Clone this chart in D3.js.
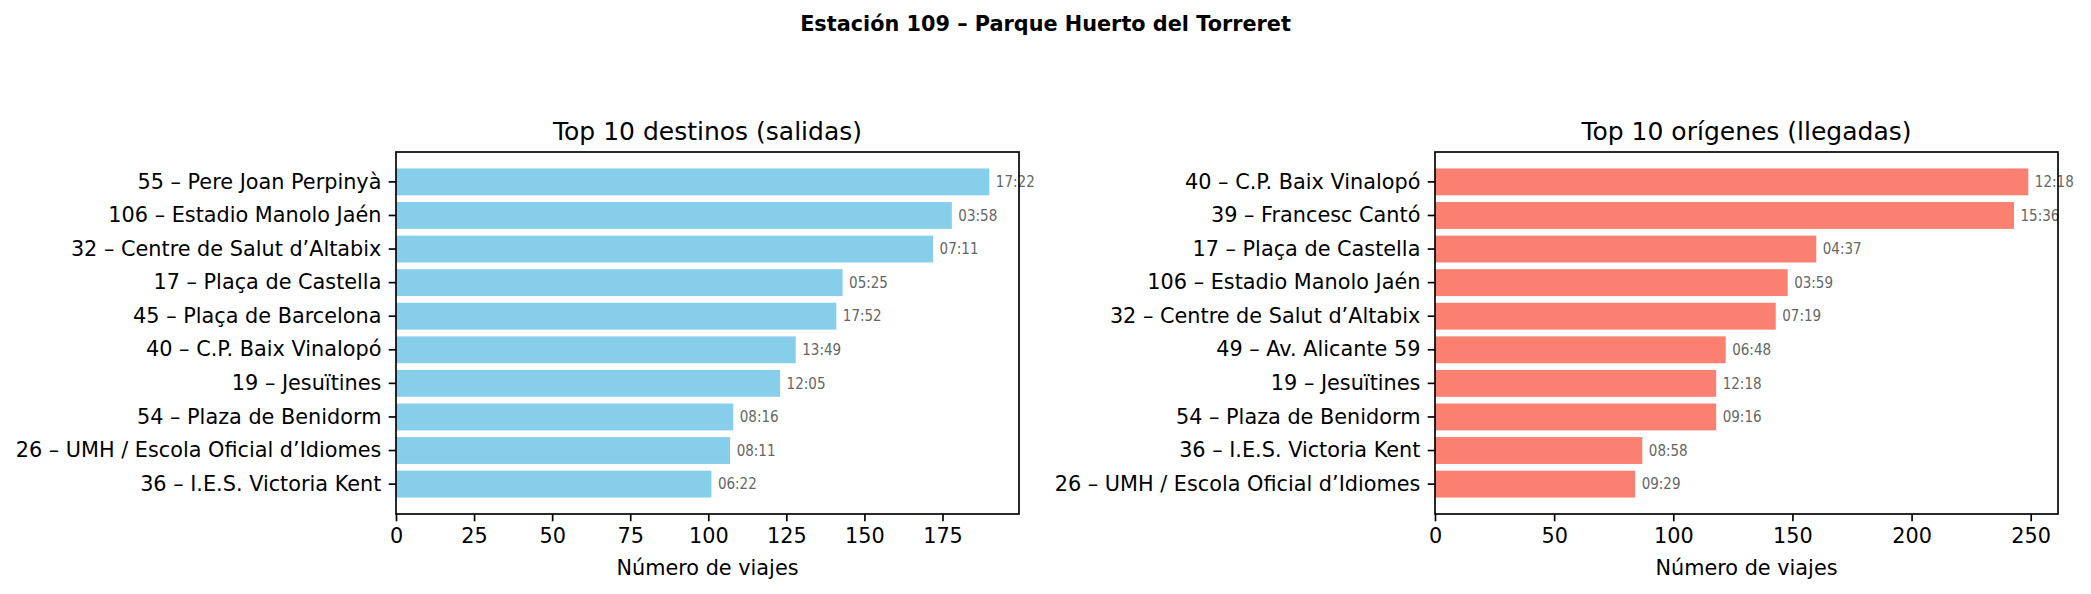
<!DOCTYPE html>
<html>
<head>
<meta charset="utf-8">
<script src="https://cdn.jsdelivr.net/npm/d3@7"></script>
<style>
  html, body { margin: 0; padding: 0; background: #fff; }
  svg { display: block; }
  text { font-family: "DejaVu Sans", sans-serif; }
</style>
</head>
<body>
<script>
const suptitle = "Estación 109 – Parque Huerto del Torreret";

const leftTitle = "Top 10 destinos (salidas)";
const leftCategories = [
  "55 – Pere Joan Perpinyà",
  "106 – Estadio Manolo Jaén",
  "32 – Centre de Salut d’Altabix",
  "17 – Plaça de Castella",
  "45 – Plaça de Barcelona",
  "40 – C.P. Baix Vinalopó",
  "19 – Jesuïtines",
  "54 – Plaza de Benidorm",
  "26 – UMH / Escola Oficial d’Idiomes",
  "36 – I.E.S. Victoria Kent"
];
const leftValues = [190, 178, 172, 143, 141, 128, 123, 108, 107, 101];
const leftTimes = ["17:22", "03:58", "07:11", "05:25", "17:52", "13:49", "12:05", "08:16", "08:11", "06:22"];
const leftTicks = [0, 25, 50, 75, 100, 125, 150, 175];

const rightTitle = "Top 10 orígenes (llegadas)";
const rightCategories = [
  "40 – C.P. Baix Vinalopó",
  "39 – Francesc Cantó",
  "17 – Plaça de Castella",
  "106 – Estadio Manolo Jaén",
  "32 – Centre de Salut d’Altabix",
  "49 – Av. Alicante 59",
  "19 – Jesuïtines",
  "54 – Plaza de Benidorm",
  "36 – I.E.S. Victoria Kent",
  "26 – UMH / Escola Oficial d’Idiomes"
];
const rightValues = [249, 243, 160, 148, 143, 122, 118, 118, 87, 84];
const rightTimes = ["12:18", "15:36", "04:37", "03:59", "07:19", "06:48", "12:18", "09:16", "08:58", "09:29"];
const rightTicks = [0, 50, 100, 150, 200, 250];

const xLabel = "Número de viajes";

const W = 2091, H = 594;
const svg = d3.select("body").append("svg").attr("width", W).attr("height", H);

svg.append("text")
  .attr("x", 1045.5).attr("y", 31)
  .attr("text-anchor", "middle")
  .style("font-size", "20.8px").style("font-weight", "bold")
  .text(suptitle);

const plotTop = 152, plotBottom = 514;
const tickLen = 7.3, tickPad = 7.3;

function panel(x0, x1, title, cats, vals, times, ticks, color) {
  const g = svg.append("g");
  const xmax = d3.max(vals) * 1.05;
  const x = d3.scaleLinear().domain([0, xmax]).range([x0, x1]);
  const y = d3.scaleBand().domain(cats).range([plotTop, plotBottom])
    .paddingInner(0.2).paddingOuter(0.49);

  g.selectAll("rect.bar").data(cats).enter().append("rect")
    .attr("class", "bar")
    .attr("x", x(0))
    .attr("y", d => y(d))
    .attr("width", (d, i) => x(vals[i]) - x(0))
    .attr("height", y.bandwidth())
    .attr("fill", color);

  g.selectAll("text.val").data(cats).enter().append("text")
    .attr("class", "val")
    .attr("x", (d, i) => x(vals[i]) + 6.5)
    .attr("y", d => y(d) + y.bandwidth() / 2)
    .attr("dy", "0.35em")
    .style("font-size", "15px")
    .style("font-stretch", "condensed")
    .attr("fill", "#666666")
    .text((d, i) => times[i]);

  const xAxis = d3.axisBottom(x).tickValues(ticks).tickSize(tickLen).tickPadding(tickPad).tickFormat(d3.format("d"));
  const gx = g.append("g").attr("transform", `translate(0,${plotBottom})`).call(xAxis);
  gx.select(".domain").remove();
  gx.selectAll(".tick line").attr("stroke", "#000").attr("stroke-width", 1.67);
  gx.selectAll(".tick text").attr("fill", "#000").style("font-size", "20.8px")
    .style("font-family", "DejaVu Sans");

  const yAxis = d3.axisLeft(y).tickSize(tickLen).tickPadding(tickPad);
  const gy = g.append("g").attr("transform", `translate(${x0},0)`).call(yAxis);
  gy.select(".domain").remove();
  gy.selectAll(".tick line").attr("stroke", "#000").attr("stroke-width", 1.67);
  gy.selectAll(".tick text").attr("fill", "#000").style("font-size", "20.8px")
    .style("font-family", "DejaVu Sans");

  g.append("rect")
    .attr("x", x0).attr("y", plotTop)
    .attr("width", x1 - x0).attr("height", plotBottom - plotTop)
    .attr("fill", "none").attr("stroke", "#000").attr("stroke-width", 1.67);

  g.append("text")
    .attr("x", (x0 + x1) / 2).attr("y", 139.5)
    .attr("text-anchor", "middle")
    .style("font-size", "25px")
    .text(title);

  g.append("text")
    .attr("x", (x0 + x1) / 2).attr("y", 575)
    .attr("text-anchor", "middle")
    .style("font-size", "20.8px")
    .text(xLabel);
}

panel(396, 1019, leftTitle, leftCategories, leftValues, leftTimes, leftTicks, "#87CEEB");
panel(1435, 2058, rightTitle, rightCategories, rightValues, rightTimes, rightTicks, "#FA8072");
</script>
</body>
</html>
